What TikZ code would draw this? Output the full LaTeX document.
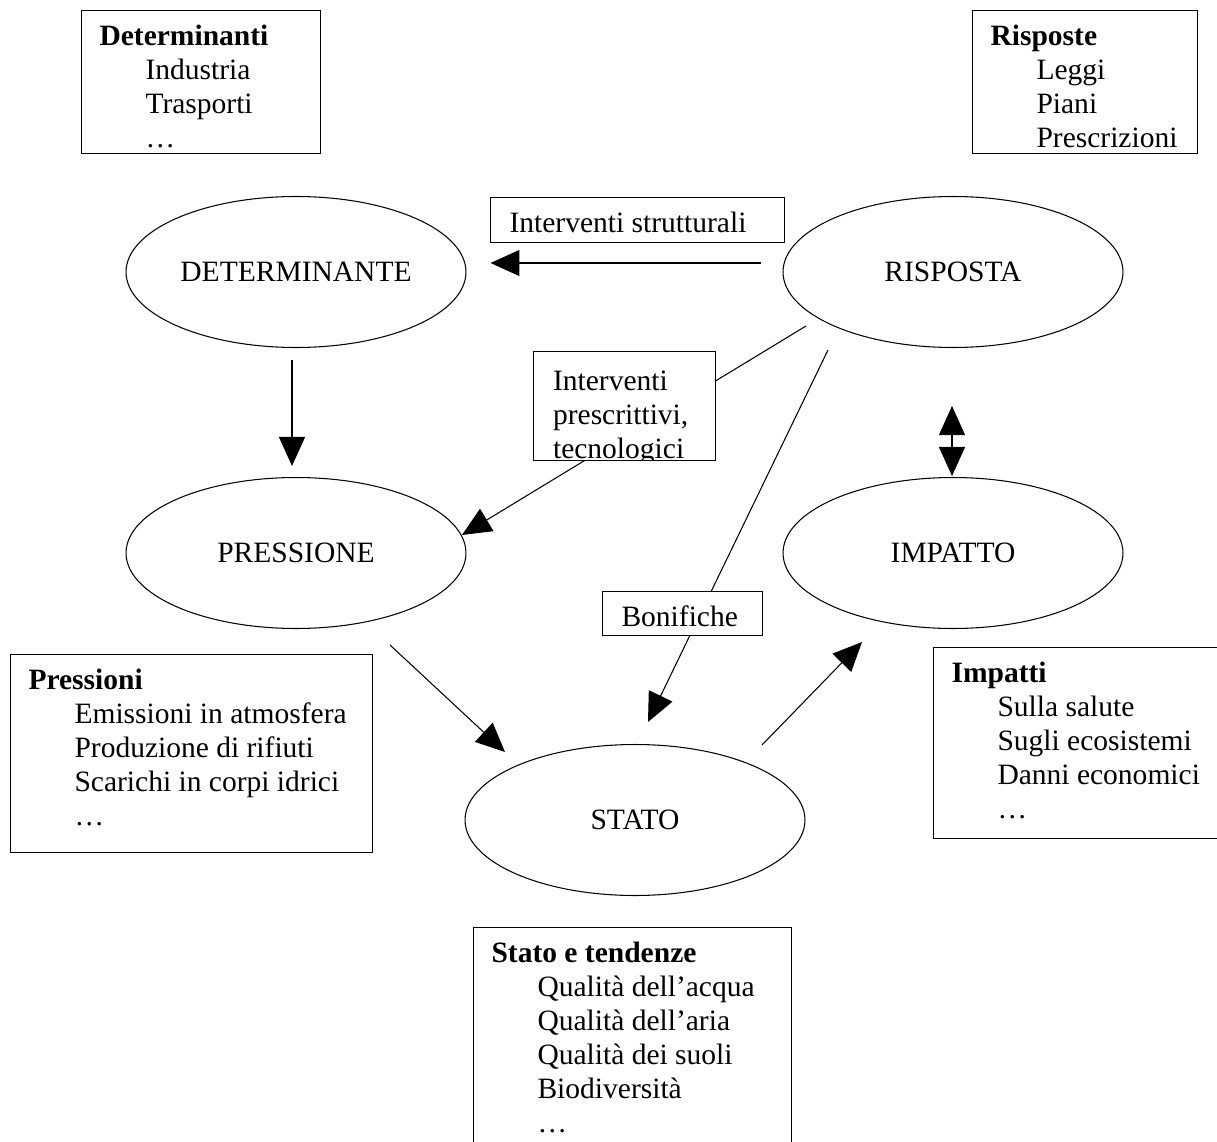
\documentclass[tikz,border=0pt]{standalone}
\usepackage{fontspec}
\setmainfont{Liberation Serif}
\usetikzlibrary{arrows.meta,calc,shapes.geometric}

\tikzset{
  phase/.style={draw, ellipse, fill=white, minimum width=6.8cm, minimum height=3.02cm, inner sep=0pt},
  infobox/.style={draw, fill=white, anchor=north west, inner xsep=3.6mm, inner ysep=0pt},
  tagbox/.style={draw, fill=white, anchor=north west, inner xsep=3.8mm, inner ysep=0pt},
  tip/.style={-{Triangle[length=5.8mm,width=5.2mm]}},
  bothtips/.style={{Triangle[length=5.8mm,width=5.2mm]}-{Triangle[length=5.8mm,width=5.2mm]}},
}
\newcommand{\topbox}[4][6.9mm]{\parbox[t][#2][t]{#3}{\raggedright\rule{0pt}{#1}#4}}
\newcommand{\itm}{\hspace*{9.2mm}}

\begin{document}
\begin{tikzpicture}[x=0.02cm, y=-0.02cm, line width=0.6pt, font=\fontsize{16.8}{19.35}\selectfont]
\useasboundingbox (0,0) rectangle (1217,1142);
\clip (0,0) rectangle (1217,1142);

\node[infobox] (detlist) at (81,10) {\topbox{2.86cm}{4.06cm}{\textbf{Determinanti}\\\itm Industria\\\itm Trasporti\\\itm\ldots}};
\node[infobox] (risplist) at (972,10) {\topbox{2.86cm}{3.78cm}{\textbf{Risposte}\\\itm Leggi\\\itm Piani\\\itm Prescrizioni}};

\node[phase] (det) at (296,272) {DETERMINANTE};
\node[phase] (risp) at (953,272) {RISPOSTA};
\node[phase] (pres) at (296,553) {PRESSIONE};
\node[phase] (imp) at (953,553) {IMPATTO};
\node[phase] (stato) at (635,820) {STATO};

\draw[tip] ($(risp.west)+(-22,-9)$) -- ($(det.east)+(24,-9)$);
\draw[tip] ($(det.south)+(-4,12)$) -- ($(pres.north)+(-4,-11)$);
\draw[tip] ($(risp.center)+(-147,54)$) -- ($(pres.center)+(166,-18)$);
\draw[tip] ($(risp.center)+(-125,78)$) -- ($(stato.center)+(13,-98)$);
\draw[bothtips] ($(risp.south)+(-1,58)$) -- ($(imp.north)+(-1,-1)$);
\draw[tip] ($(pres.center)+(94,92)$) -- ($(stato.center)+(-130,-68)$);
\draw[tip] ($(stato.center)+(127,-75)$) -- ($(imp.center)+(-91,89)$);

\node[tagbox] (strutt) at (490,197) {\topbox{0.9cm}{5.12cm}{Interventi strutturali}};
\node[tagbox, minimum width=3.64cm, minimum height=2.18cm, path picture={
  \node[draw=none, fill=none, anchor=north west, inner xsep=3.8mm, inner ysep=0pt] (prescrtext) at (path picture bounding box.north west)
    {\topbox[7.6mm]{2.18cm}{2.88cm}{Interventi\\prescrittivi,\\tecnologici}};}] (prescr) at (533,351) {};
\node[tagbox] (bonif) at (602,591) {\topbox{0.88cm}{2.44cm}{Bonifiche}};

\node[infobox] (preslist) at (10,654) {\topbox{3.96cm}{6.52cm}{\textbf{Pressioni}\\\itm Emissioni in atmosfera\\\itm Produzione di rifiuti\\\itm Scarichi in corpi idrici\\\itm\ldots}};
\node[infobox] (implist) at (933,647) {\topbox{3.82cm}{5.28cm}{\textbf{Impatti}\\\itm Sulla salute\\\itm Sugli ecosistemi\\\itm Danni economici\\\itm\ldots}};
\node[infobox] (statolist) at (473,927) {\topbox{4.6cm}{5.64cm}{\textbf{Stato e tendenze}\\\itm Qualità dell’acqua\\\itm Qualità dell’aria\\\itm Qualità dei suoli\\\itm Biodiversità\\\itm\ldots}};
\end{tikzpicture}
\end{document}
